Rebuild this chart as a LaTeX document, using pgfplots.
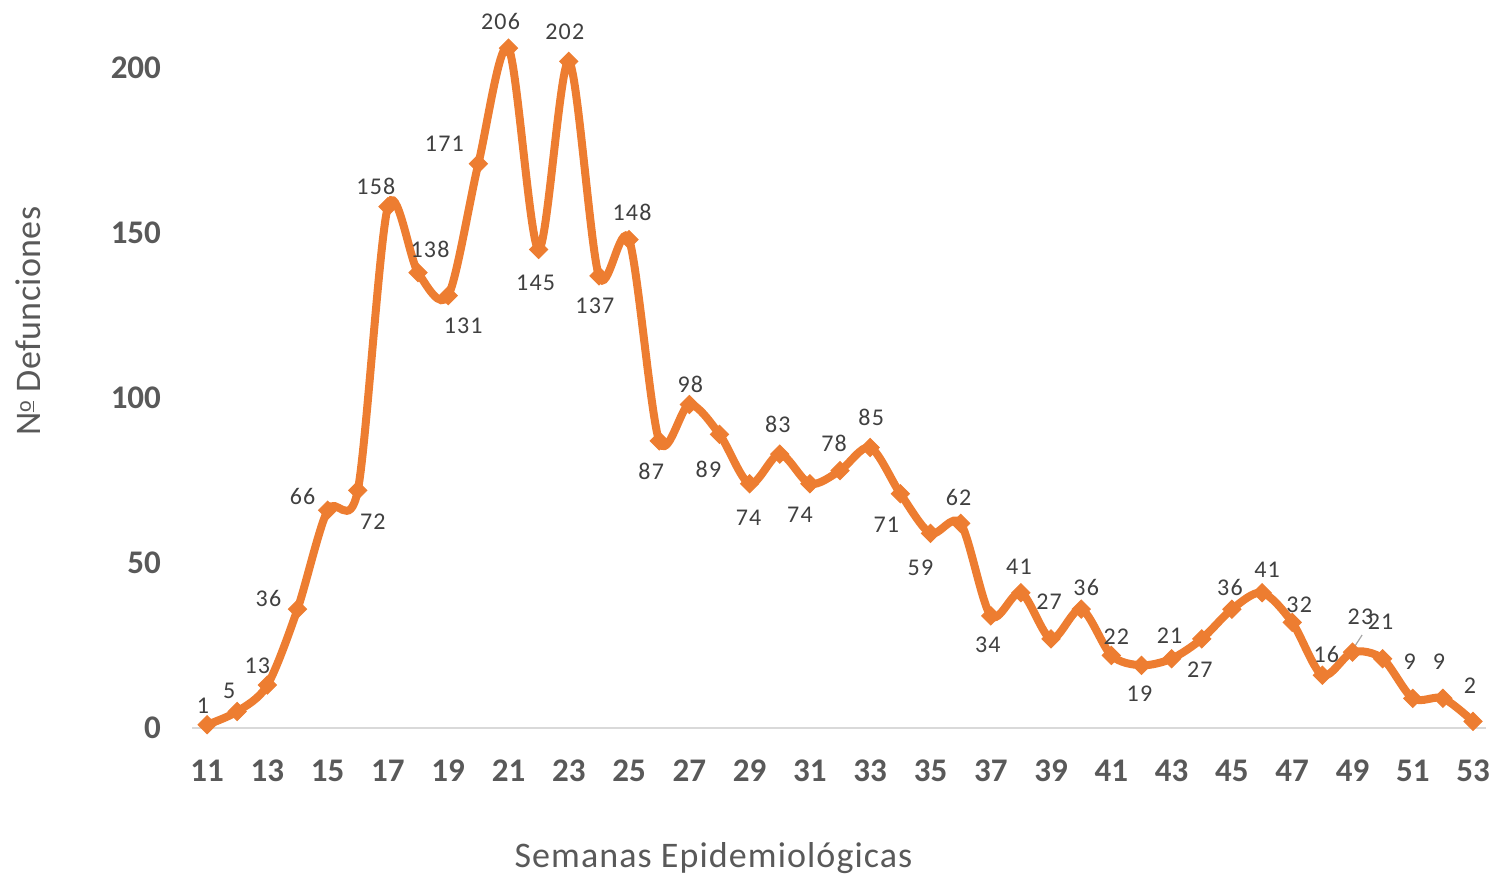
\documentclass[border=0pt]{standalone}
\usepackage{fontspec}
\setmainfont{Carlito}
\newfontfamily\lblfont[LetterSpace=5]{Carlito}
\newfontfamily\xtitlefont[LetterSpace=3]{Carlito}
\newfontfamily\ytitlefont[LetterSpace=1]{Carlito}
\usepackage{pgfplots}
\usepackage{pgfplotstable}
\pgfplotsset{compat=1.18}

\definecolor{orangeline}{HTML}{ED7D31}
\definecolor{tickgray}{HTML}{595959}
\definecolor{lblgray}{HTML}{404040}
\definecolor{axgray}{HTML}{D9D9D9}

% week, deaths, label offset (px) dx dy
\pgfplotstableread{
w y dx dy
11 1 -4 19
12 5 -8 21
13 13 -10 19
14 36 -29 11
15 66 -25 14
16 72 15 -31
17 158 -12 20
18 138 12 23
19 131 15 -30
20 171 -34 20
21 206 -8 27
22 145 -3 -33
23 202 -4 30
24 137 -4 -30
25 148 3 27
26 87 -8 -30
27 98 1 20
28 89 -11 -35
29 74 -1 -34
30 83 -2 30
31 74 -10 -31
32 78 -6 27
33 85 1 30
34 71 -14 -31
35 59 -10 -35
36 62 -2 26
37 34 -3 -29
38 41 -2 26
39 27 -2 37
40 36 5 22
41 22 5 19
42 19 -2 -28
43 21 -2 23
44 27 -2 -31
45 36 -2 22
46 41 5 23
47 32 7 18
48 16 4 21
49 23 8 35
50 21 -2 37
51 9 -3 37
52 9 -4 37
53 2 -3 36
}\datatable

\begin{document}
\begin{tikzpicture}
  \useasboundingbox (0,0) rectangle (745.5pt,438pt);
  \begin{axis}[
    at={(96pt,74pt)}, anchor=south west,
    scale only axis,
    width=647pt, height=346.5pt,
    xmin=10.5, xmax=53.43,
    ymin=0, ymax=210,
    clip=false,
    axis line style={draw=none},
    major tick style={draw=none},
    xtick={11,13,...,53},
    ytick={0,50,...,200},
    /pgf/number format/assume math mode=true,
    ticklabel style={font=\bfseries\fontsize{16.5}{19}\selectfont, text=tickgray},
    xticklabel style={yshift=-12.5pt},
    yticklabel style={xshift=-12pt},
    xlabel={\xtitlefont Semanas Epidemiológicas},
    ylabel={\ytitlefont N\raisebox{0.55ex}{\fontsize{11}{12}\selectfont\underline{o}} Defunciones},
    label style={font=\fontsize{18}{22}\selectfont, text=tickgray},
    xlabel style={at={(axis description cs:0.403,0)}, anchor=center, yshift=-65pt},
    ylabel style={at={(axis description cs:-0.1267,0.587)}, anchor=center, rotate=0},
  ]
    \draw[axgray, line width=1pt] (axis cs:10.5,0) -- (axis cs:53.43,0);
    \draw[gray!70, line width=0.6pt] (axis cs:48.96,23.1) -- (axis cs:49.32,28.2);
    \addplot[
      orangeline, line width=4pt, smooth,
      mark=square*, mark size=3.2pt,
      mark options={rotate=45, solid, line width=0.5pt, fill=orangeline},
      nodes near coords,
      visualization depends on={\thisrow{dx} \as \dx},
      visualization depends on={\thisrow{dy} \as \dy},
      every node near coord/.append style={
        anchor=center, xshift=\dx*0.5pt, yshift=\dy*0.5pt,
        text=lblgray, font=\lblfont\fontsize{12}{14}\selectfont},
    ] table[x=w, y=y, meta=y] {\datatable};
  \end{axis}
\end{tikzpicture}
\end{document}
